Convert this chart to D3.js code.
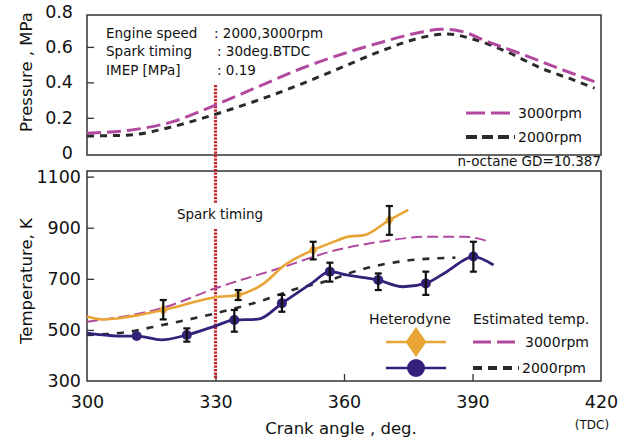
<!DOCTYPE html>
<html><head><meta charset="utf-8">
<script src="https://cdn.jsdelivr.net/npm/d3@7"></script>
<style>
html,body{margin:0;padding:0;background:#fff;}
svg{display:block;}
text{font-family:"DejaVu Sans",sans-serif;fill:#111;}
</style></head>
<body>
<script>
// ---------- data ----------
const xTicks = [300, 330, 360, 390, 420];
const pTicks = [0, 0.2, 0.4, 0.6, 0.8];
const tTicks = [300, 500, 700, 900, 1100];

// Pressure (MPa) vs crank angle
const pressure3000 = [[300,0.113],[310,0.13],[320,0.178],[330,0.272],[340,0.376],[350,0.478],[360,0.563],[369,0.628],[378.5,0.686],[382.5,0.70],[387,0.69],[394,0.625],[402,0.555],[410,0.48],[418.5,0.404]];
const pressure2000 = [[300,0.097],[310,0.103],[320,0.15],[330,0.22],[340,0.30],[350,0.39],[360,0.49],[369,0.58],[378.5,0.655],[384,0.673],[390,0.645],[398,0.573],[406,0.48],[413.5,0.414],[418.5,0.367]];

// Estimated temperature (K)
const est3000 = [[300,532],[318,588],[330,663],[346,747],[356.7,806],[368.4,845],[380,865],[388,865],[394,845]];
const est2000 = [[300,480],[310,493],[315,510],[330,565],[340,610],[349.3,663],[355.6,689],[363.7,735],[374.6,771],[386,783]];

// Heterodyne measured temperature (K): lines
const het3000 = [[300,552],[303.4,541],[317.8,578],[330,628],[335.3,637],[340.8,676],[346.2,754],[352.8,813],[356.7,839],[361.4,866],[364.5,870],[370.6,930],[375,970]];
const het2000 = [[300,487],[307.3,476],[311.6,476],[317.4,461],[323.3,480],[329.9,515],[334.4,539],[340,542],[345.5,604],[352.5,683],[356.7,728],[360.6,715],[368,695],[373.8,669],[379.1,682],[384,728],[390.2,787],[394.9,754]];
// Heterodyne points: [angle, T, low, high]
const het3000Pts = [[317.8,578,541,617],[335.3,637,617,656],[352.8,813,776,845],[370.6,930,872,985]];
const het2000Pts = [[311.6,476,null,null],[323.3,480,454,506],[334.4,539,493,578],[345.5,604,571,637],[356.7,728,689,763],[368,695,656,721],[379.1,682,637,728],[390.2,787,728,845]];

const sparkAngle = 330;

// ---------- drawing ----------
const W = 625, H = 440;
const svg = d3.select("body").append("svg").attr("width", W).attr("height", H);

const L = 87, R = 601;
const x = d3.scaleLinear().domain([300, 420]).range([L, R]);
const yP = d3.scaleLinear().domain([-0.01, 0.78]).range([155, 15]);
const yT = d3.scaleLinear().domain([300, 1122]).range([381, 171]);

const C_PINK = "#b14a9f", C_BLK = "#2a2a2a", C_OR = "#e8a535", C_PU = "#35207a", C_RED = "#c4262b";

// frames
svg.append("rect").attr("x", L).attr("y", yP.range()[1]).attr("width", R - L).attr("height", yP.range()[0] - yP.range()[1])
  .attr("fill", "none").attr("stroke", "#333").attr("stroke-width", 1.5);
svg.append("rect").attr("x", L).attr("y", yT.range()[1]).attr("width", R - L).attr("height", yT.range()[0] - yT.range()[1])
  .attr("fill", "none").attr("stroke", "#333").attr("stroke-width", 1.5);

// axes (inward ticks)
const axP = svg.append("g").attr("transform", `translate(${L},0)`)
  .call(d3.axisLeft(yP).tickValues(pTicks).tickSize(-7).tickPadding(14).tickFormat(d => d === 0 ? "0" : d3.format(".1f")(d)));
const axT = svg.append("g").attr("transform", `translate(${L},0)`)
  .call(d3.axisLeft(yT).tickValues(tTicks).tickSize(-7).tickPadding(6).tickFormat(d3.format("d")));
const axX = svg.append("g").attr("transform", `translate(0,${yT.range()[0]})`)
  .call(d3.axisBottom(x).tickValues(xTicks).tickSize(-7).tickPadding(15).tickFormat(d3.format("d")));
[axP, axT, axX].forEach(g => {
  g.select(".domain").remove();
  g.selectAll("line").attr("stroke", "#333").attr("stroke-width", 1.3);
  g.selectAll("text").attr("font-size", 17.5).attr("fill", "#111").style("font-family", '"DejaVu Sans",sans-serif');
});
axP.selectAll(".tick").filter(d => d === 0 || d === 0.8).select("line").remove();
axT.selectAll(".tick").filter(d => d === 300).select("line").remove();
axX.selectAll(".tick").filter(d => d === 300 || d === 420).select("line").remove();

// axis titles
svg.append("text").attr("transform", "translate(32,72) rotate(-90)").attr("text-anchor", "middle")
  .attr("font-size", 16.5).text("Pressure , MPa");
svg.append("text").attr("transform", "translate(32,281) rotate(-90)").attr("text-anchor", "middle")
  .attr("font-size", 16.5).text("Temperature, K");
svg.append("text").attr("x", 341).attr("y", 434).attr("text-anchor", "middle").attr("font-size", 16.5).text("Crank angle , deg.");
svg.append("text").attr("x", 592).attr("y", 429).attr("text-anchor", "middle").attr("font-size", 12).text("(TDC)");

// spark timing line
const sx = x(sparkAngle);
const redDot = sel => sel.attr("stroke", C_RED).attr("stroke-width", 3.2).attr("stroke-dasharray", "2.2,1.3");
redDot(svg.append("line").attr("x1", sx).attr("x2", sx).attr("y1", 85).attr("y2", 203));
redDot(svg.append("line").attr("x1", sx).attr("x2", sx).attr("y1", 229).attr("y2", 379));
svg.append("text").attr("x", 220).attr("y", 219).attr("text-anchor", "middle").attr("font-size", 13.5).text("Spark timing");

// line generators
const lineP = d3.line().x(d => x(d[0])).y(d => yP(d[1])).curve(d3.curveMonotoneX);
const lineT = d3.line().x(d => x(d[0])).y(d => yT(d[1])).curve(d3.curveMonotoneX);

// pressure curves
svg.append("path").datum(pressure2000).attr("d", lineP).attr("fill", "none").attr("stroke", C_BLK)
  .attr("stroke-width", 3).attr("stroke-dasharray", "7,6");
svg.append("path").datum(pressure3000).attr("d", lineP).attr("fill", "none").attr("stroke", C_PINK)
  .attr("stroke-width", 3).attr("stroke-dasharray", "14,6");

// temperature curves
svg.append("path").datum(est2000).attr("d", lineT).attr("fill", "none").attr("stroke", C_BLK)
  .attr("stroke-width", 2.6).attr("stroke-dasharray", "7,8");
svg.append("path").datum(est3000).attr("d", lineT).attr("fill", "none").attr("stroke", C_PINK)
  .attr("stroke-width", 2).attr("stroke-dasharray", "11,5");
svg.append("path").datum(het3000).attr("d", lineT).attr("fill", "none").attr("stroke", C_OR).attr("stroke-width", 2.6);
svg.append("path").datum(het2000).attr("d", lineT).attr("fill", "none").attr("stroke", C_PU).attr("stroke-width", 2.8);

// markers
svg.append("g").selectAll("path").data(het3000Pts).join("path")
  .attr("d", d3.symbol(d3.symbolDiamond, 45))
  .attr("transform", d => `translate(${x(d[0])},${yT(d[1])}) scale(1.15,1)`).attr("fill", C_OR);
svg.append("g").selectAll("circle").data(het2000Pts).join("circle")
  .attr("cx", d => x(d[0])).attr("cy", d => yT(d[1])).attr("r", 5).attr("fill", C_PU);

// error bars
const eb = svg.append("g").attr("stroke", "#111");
het3000Pts.concat(het2000Pts).filter(d => d[2] != null).forEach(d => {
  const cx = x(d[0]);
  eb.append("line").attr("x1", cx).attr("x2", cx).attr("y1", yT(d[2])).attr("y2", yT(d[3])).attr("stroke-width", 2.2);
  eb.append("line").attr("x1", cx - 3.5).attr("x2", cx + 3.5).attr("y1", yT(d[2])).attr("y2", yT(d[2])).attr("stroke-width", 2.2);
  eb.append("line").attr("x1", cx - 3.5).attr("x2", cx + 3.5).attr("y1", yT(d[3])).attr("y2", yT(d[3])).attr("stroke-width", 2.2);
});

// top annotation
const ann = [["Engine speed", ": 2000,3000rpm"], ["Spark timing", ": 30deg.BTDC"], ["IMEP [MPa]", ": 0.19"]];
ann.forEach((a, i) => {
  svg.append("text").attr("x", 106).attr("y", 38 + i * 18.3).attr("font-size", 13.5).text(a[0]);
  svg.append("text").attr("x", 214 + (i ? 3 : 0)).attr("y", 38 + i * 18.3).attr("font-size", 13.5).text(a[1]);
});

// top legend
svg.append("line").attr("x1", 466).attr("x2", 515).attr("y1", 113).attr("y2", 113).attr("stroke", C_PINK).attr("stroke-width", 3.2).attr("stroke-dasharray", "19,6");
svg.append("text").attr("x", 518).attr("y", 118).attr("font-size", 14).text("3000rpm");
svg.append("line").attr("x1", 466).attr("x2", 515).attr("y1", 137).attr("y2", 137).attr("stroke", C_BLK).attr("stroke-width", 4).attr("stroke-dasharray", "11,5");
svg.append("text").attr("x", 518).attr("y", 142).attr("font-size", 14).text("2000rpm");

svg.append("text").attr("x", 601).attr("y", 166).attr("text-anchor", "end").attr("font-size", 13.5).text("n-octane GD=10.387");

// bottom legend
svg.append("text").attr("x", 410).attr("y", 324).attr("text-anchor", "middle").attr("font-size", 14).text("Heterodyne");
svg.append("text").attr("x", 473).attr("y", 324).attr("font-size", 14).text("Estimated temp.");
svg.append("line").attr("x1", 386).attr("x2", 446).attr("y1", 342).attr("y2", 342).attr("stroke", C_OR).attr("stroke-width", 2.6);
svg.append("path").attr("d", d3.symbol(d3.symbolDiamond, 260)).attr("transform", "translate(416,342) scale(1.2,1)").attr("fill", C_OR);
svg.append("line").attr("x1", 386).attr("x2", 446).attr("y1", 368).attr("y2", 368).attr("stroke", C_PU).attr("stroke-width", 2.6);
svg.append("circle").attr("cx", 416).attr("cy", 368).attr("r", 9).attr("fill", C_PU);
svg.append("line").attr("x1", 473).attr("x2", 519).attr("y1", 342).attr("y2", 342).attr("stroke", C_PINK).attr("stroke-width", 3).attr("stroke-dasharray", "18,6");
svg.append("text").attr("x", 525).attr("y", 347).attr("font-size", 14).text("3000rpm");
svg.append("line").attr("x1", 473).attr("x2", 519).attr("y1", 368).attr("y2", 368).attr("stroke", C_BLK).attr("stroke-width", 4).attr("stroke-dasharray", "9,6");
svg.append("text").attr("x", 522).attr("y", 373).attr("font-size", 14).text("2000rpm");
</script>
</body></html>
